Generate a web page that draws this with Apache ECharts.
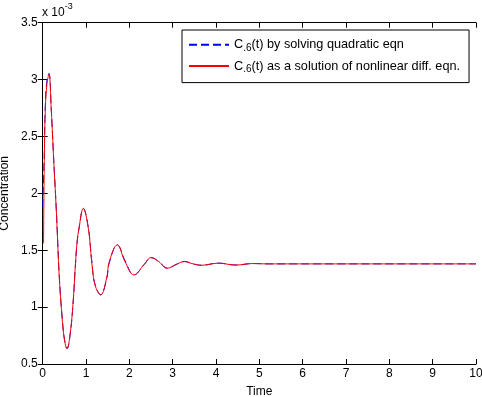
<!DOCTYPE html>
<html>
<head>
<meta charset="utf-8">
<script src="https://cdn.jsdelivr.net/npm/echarts@6/dist/echarts.min.js"></script>
<style>html,body{margin:0;padding:0;background:#fff;}#c{width:482px;height:397px;}</style>
</head>
<body>
<div id="c"></div>
<script>
// Time values (t) and concentrations in units of 1e-3
var tRed = [0.02, 0.037, 0.06, 0.10, 0.145, 0.198, 0.254, 0.314, 0.337, 0.383, 0.445, 0.50, 0.561, 0.637, 0.706, 0.752, 0.792, 0.838, 0.937, 1.052, 1.131, 1.207, 1.339, 1.477, 1.537, 1.722, 1.899, 2.107, 2.345, 2.50, 2.68, 2.875, 3.08, 3.27, 3.47, 3.67, 4.05, 4.46, 4.85, 5.2, 10];
var cRed = [1.56, 2.29, 2.73, 2.97, 3.045, 2.73, 2.29, 1.85, 1.65, 1.26, 0.92, 0.72, 0.635, 0.775, 1.065, 1.355, 1.565, 1.695, 1.868, 1.695, 1.40, 1.195, 1.108, 1.257, 1.40, 1.547, 1.40, 1.283, 1.377, 1.435, 1.40, 1.342, 1.375, 1.400, 1.380, 1.368, 1.386, 1.370, 1.383, 1.380, 1.380];
var tBlue = [0.0, 0.037, 0.06, 0.10, 0.145, 0.198, 0.254, 0.314, 0.337, 0.383, 0.445, 0.50, 0.561, 0.637, 0.706, 0.752, 0.792, 0.838, 0.937, 1.052, 1.131, 1.207, 1.339, 1.477, 1.537, 1.722, 1.899, 2.107, 2.345, 2.50, 2.68, 2.875, 3.08, 3.27, 3.47, 3.67, 4.05, 4.46, 4.85, 5.2, 10];
var cBlue = [1.88, 2.35, 2.78, 3.00, 3.055, 2.74, 2.30, 1.86, 1.66, 1.27, 0.93, 0.72, 0.635, 0.77, 1.06, 1.35, 1.56, 1.69, 1.868, 1.70, 1.41, 1.20, 1.108, 1.25, 1.39, 1.547, 1.41, 1.283, 1.375, 1.435, 1.40, 1.342, 1.375, 1.402, 1.380, 1.368, 1.387, 1.370, 1.383, 1.380, 1.380];
var seriesNames = ['C.6(t) by solving quadratic eqn', 'C.6(t) as a solution of nonlinear diff. eqn.'];
var legendSub = ['.6', '.6'];
var legendRest = ['(t) by solving quadratic eqn', '(t) as a solution of nonlinear diff. eqn.'];
var xLabel = 'Time';
var yLabel = 'Concentration';

function pairs(t, c) { return t.map(function (v, i) { return [v, c[i]]; }); }

var FONT = 'Liberation Sans, Arial, Helvetica, sans-serif';
var chart = echarts.init(document.getElementById('c'), null, {renderer: 'canvas'});
var axisCommon = {
  axisLine: {show: true, lineStyle: {color: '#000', width: 1}},
  axisTick: {show: true, inside: true, length: 5, lineStyle: {color: '#000'}},
  splitLine: {show: false}
};
chart.setOption({
  animation: false,
  backgroundColor: '#fff',
  textStyle: {fontFamily: FONT},
  grid: {left: 42.7, right: 6, top: 22.7, bottom: 33, containLabel: false, outerBoundsMode: 'none'},
  graphic: [{
    type: 'text', left: 42, top: 2,
    style: {
      text: '{a|x 10}{s|-3}',
      rich: {
        a: {fontFamily: FONT, fontSize: 12, fill: '#000', padding: [5, 0, 0, 0], verticalAlign: 'bottom'},
        s: {fontFamily: FONT, fontSize: 9, fill: '#000', verticalAlign: 'top'}
      }
    }
  }],
  legend: {
    orient: 'vertical', left: 182, top: 30,
    padding: [8, 9, 8, 6], itemGap: 6, itemWidth: 40, itemHeight: 17,
    borderColor: '#000', borderWidth: 1, backgroundColor: '#fff',
    itemStyle: {opacity: 0},
    data: seriesNames,
    formatter: function (name) {
      var i = seriesNames.indexOf(name);
      return '{a|C}{s|' + legendSub[i] + '}{a|' + legendRest[i] + '}';
    },
    textStyle: {
      fontFamily: FONT, color: '#000', fontSize: 12.7,
      rich: {
        a: {fontFamily: FONT, fontSize: 12.7, lineHeight: 17, color: '#000'},
        s: {fontFamily: FONT, fontSize: 10, lineHeight: 10, color: '#000', verticalAlign: 'bottom'}
      }
    }
  },
  xAxis: [
    Object.assign({type: 'value', min: 0, max: 10, interval: 1, position: 'bottom',
      name: xLabel, nameLocation: 'middle', nameGap: 22, nameMoveOverlap: false,
      nameTextStyle: {fontFamily: FONT, fontSize: 12, color: '#000'},
      axisLabel: {color: '#000', fontSize: 12, fontFamily: FONT, margin: 4}}, axisCommon),
    Object.assign({type: 'value', min: 0, max: 10, interval: 1, position: 'top',
      axisLabel: {show: false}}, axisCommon)
  ],
  yAxis: [
    Object.assign({type: 'value', min: 0.5, max: 3.5, interval: 0.5, position: 'left',
      name: yLabel, nameLocation: 'middle', nameGap: 32, nameRotate: 90, nameMoveOverlap: false,
      nameTextStyle: {fontFamily: FONT, fontSize: 12, color: '#000'},
      axisLabel: {color: '#000', fontSize: 12, fontFamily: FONT, margin: 5}}, axisCommon),
    Object.assign({type: 'value', min: 0.5, max: 3.5, interval: 0.5, position: 'right',
      axisLabel: {show: false}}, axisCommon)
  ],
  series: [
    {name: seriesNames[0], type: 'line', data: pairs(tBlue, cBlue), symbol: 'none', smooth: 0.4,
      lineStyle: {color: '#0000ff', width: 1, type: [8, 4]}, itemStyle: {color: '#0000ff'}},
    {name: seriesNames[1], type: 'line', data: pairs(tRed, cRed), symbol: 'none', smooth: 0.4,
      lineStyle: {color: '#ff0000', width: 1}, itemStyle: {color: '#ff0000'}}
  ]
});
</script>
</body>
</html>
